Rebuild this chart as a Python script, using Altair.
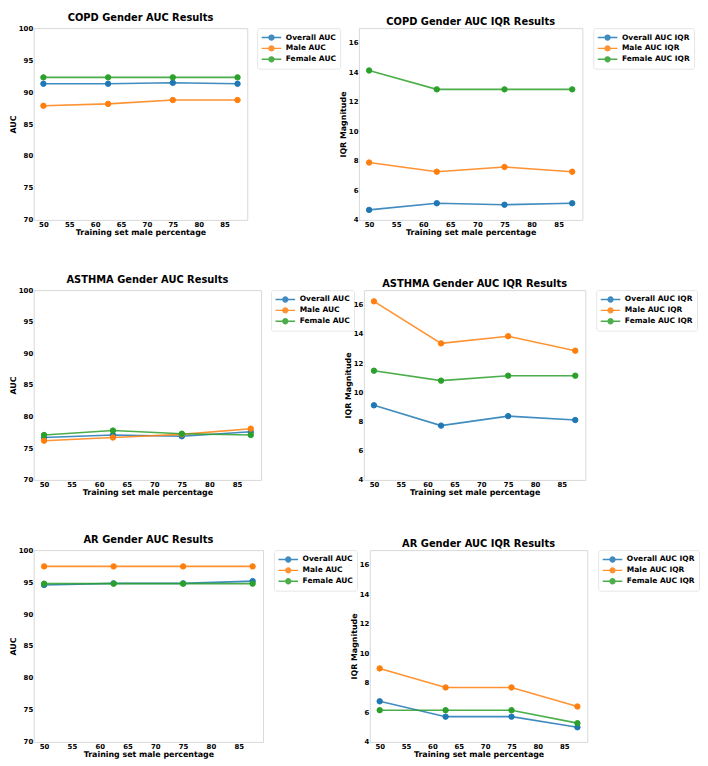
import altair as alt
import pandas as pd

x_pct = [50, 62.5, 75, 87.5]

# COPD
copd_auc_overall = [91.3, 91.3, 91.45, 91.3]
copd_auc_male = [87.85, 88.15, 88.75, 88.75]
copd_auc_female = [92.3, 92.3, 92.3, 92.3]
copd_iqr_overall = [4.68, 5.13, 5.03, 5.13]
copd_iqr_male = [7.89, 7.27, 7.59, 7.27]
copd_iqr_female = [14.13, 12.85, 12.85, 12.85]

# ASTHMA
asthma_auc_overall = [76.7, 77.1, 76.9, 77.6]
asthma_auc_male = [76.2, 76.7, 77.2, 78.1]
asthma_auc_female = [77.1, 77.8, 77.3, 77.1]
asthma_iqr_overall = [9.11, 7.72, 8.37, 8.1]
asthma_iqr_male = [16.23, 13.35, 13.84, 12.85]
asthma_iqr_female = [11.48, 10.8, 11.14, 11.14]

# AR
ar_auc_overall = [94.55, 94.8, 94.8, 95.15]
ar_auc_male = [97.45, 97.45, 97.45, 97.45]
ar_auc_female = [94.75, 94.75, 94.75, 94.75]
ar_iqr_overall = [6.75, 5.71, 5.71, 4.99]
ar_iqr_male = [8.98, 7.69, 7.69, 6.4]
ar_iqr_female = [6.15, 6.15, 6.15, 5.27]

auc_names = ["Overall AUC", "Male AUC", "Female AUC"]
iqr_names = ["Overall AUC IQR", "Male AUC IQR", "Female AUC IQR"]
colors = ["#1f77b4", "#ff7f0e", "#2ca02c"]

x_ticks = [50, 55, 60, 65, 70, 75, 80, 85]
auc_ticks = [70, 75, 80, 85, 90, 95, 100]
iqr_ticks = [4, 6, 8, 10, 12, 14, 16]

FONT = "DejaVu Sans"
# legend handle: short line with a dot in the middle (unit box scaled by sqrt(symbolSize))
LEGEND_SYMBOL = "M-2.2,0L2.2,0M-0.55,0A0.55,0.55,0,1,1,0.55,0A0.55,0.55,0,1,1,-0.55,0Z"


def make_df(names, series):
    rows = []
    for name, vals in zip(names, series):
        for xv, yv in zip(x_pct, vals):
            rows.append({"pct": xv, "value": yv, "series": name})
    return pd.DataFrame(rows)


def panel(df, names, title, ytitle, ydomain, yticks, width, height, loff):
    scale = alt.Scale(domain=names, range=colors)
    legend = alt.Legend(
        title=None, orient="right", offset=loff,
        symbolType=LEGEND_SYMBOL, symbolSize=81, symbolStrokeWidth=1.4,
        symbolOffset=5, labelOffset=9, rowPadding=0, padding=4,
        strokeColor="#e6e6e6", fillColor="white", cornerRadius=2,
        labelFont=FONT, labelFontWeight="bold", labelFontSize=7.6, labelColor="black",
    )
    x = alt.X("pct:Q", title="Training set male percentage",
              scale=alt.Scale(domain=[48.125, 89.375], nice=False, zero=False),
              axis=alt.Axis(values=x_ticks, format="d"))
    y = alt.Y("value:Q", title=ytitle,
              scale=alt.Scale(domain=ydomain, nice=False, zero=False),
              axis=alt.Axis(values=yticks, format="d"))
    base = alt.Chart(df)
    line = base.mark_line(strokeWidth=1.6, opacity=0.85).encode(
        x=x, y=y, stroke=alt.Stroke("series:N", scale=scale, legend=legend),
    )
    pts = base.mark_point(filled=True, size=30, opacity=1, strokeWidth=1).encode(
        x=x, y=y,
        fill=alt.Fill("series:N", scale=scale, legend=legend),
        stroke=alt.Stroke("series:N", scale=scale, legend=legend),
    )
    return alt.layer(line, pts).properties(
        width=width, height=height,
        title=alt.TitleParams(title, font=FONT, fontSize=10, fontWeight="bold",
                              color="black", offset=1, anchor="middle"),
    )


p1 = panel(make_df(auc_names, [copd_auc_overall, copd_auc_male, copd_auc_female]),
           auc_names, "COPD Gender AUC Results", "AUC", [70, 100], auc_ticks, 216, 194, 10)
p2 = panel(make_df(iqr_names, [copd_iqr_overall, copd_iqr_male, copd_iqr_female]),
           iqr_names, "COPD Gender AUC IQR Results", "IQR Magnitude", [4, 17], iqr_ticks, 226, 194, 11)
p3 = panel(make_df(auc_names, [asthma_auc_overall, asthma_auc_male, asthma_auc_female]),
           auc_names, "ASTHMA Gender AUC Results", "AUC", [70, 100], auc_ticks, 230, 192, 10)
p4 = panel(make_df(iqr_names, [asthma_iqr_overall, asthma_iqr_male, asthma_iqr_female]),
           iqr_names, "ASTHMA Gender AUC IQR Results", "IQR Magnitude", [4, 17], iqr_ticks, 224, 192, 11)
p5 = panel(make_df(auc_names, [ar_auc_overall, ar_auc_male, ar_auc_female]),
           auc_names, "AR Gender AUC Results", "AUC", [70, 100], auc_ticks, 232, 194, 11)
p6 = panel(make_df(iqr_names, [ar_iqr_overall, ar_iqr_male, ar_iqr_female]),
           iqr_names, "AR Gender AUC IQR Results", "IQR Magnitude", [4, 17], iqr_ticks, 220, 194, 11)

ind = dict(fill="independent", stroke="independent")
row1 = alt.hconcat(p1, p2, spacing=113, bounds="flush").resolve_scale(**ind).resolve_legend(**ind)
row2 = alt.hconcat(p3, p4, spacing=104, bounds="flush").resolve_scale(**ind).resolve_legend(**ind)
row3 = alt.hconcat(p5, p6, spacing=108, bounds="flush").resolve_scale(**ind).resolve_legend(**ind)

chart = alt.vconcat(row1, row2, row3, spacing=37).resolve_scale(**ind).resolve_legend(**ind)

chart = chart.properties(padding=0, background="white").configure_view(
    stroke="#d9d9d9", strokeWidth=1
).configure_axis(
    domain=False, ticks=False, grid=False,
    labelFont=FONT, labelFontWeight="bold", labelFontSize=7, labelColor="black",
    titleFont=FONT, titleFontWeight="bold", titleFontSize=8, titleColor="black",
    labelPadding=1, titlePadding=1,
)

chart.save("out.html", embed_options={"renderer": "svg", "actions": False})
